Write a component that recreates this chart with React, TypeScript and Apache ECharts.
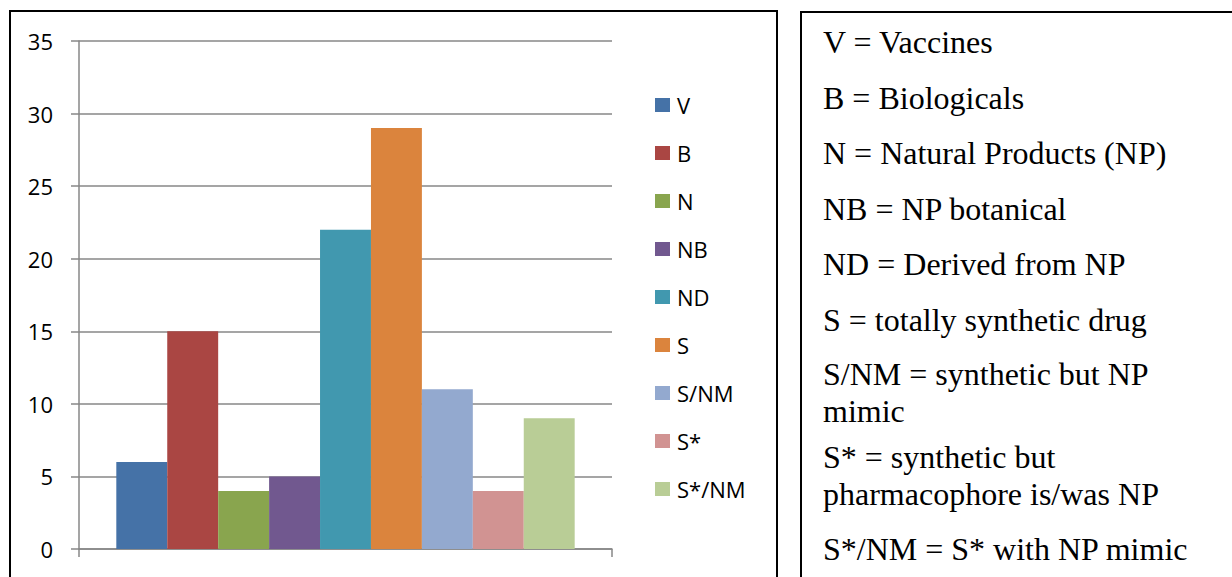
import React, { useEffect, useRef } from "react";
import * as echarts from "echarts";

const seriesNames = ["V", "B", "N", "NB", "ND", "S", "S/NM", "S*", "S*/NM"];
const seriesValues = [6, 15, 4, 5, 22, 29, 11, 4, 9];
const categories = ["Drugs"];
const yTicks = { min: 0, max: 35, interval: 5 };
const palette = ["#4572A7", "#AA4643", "#89A54E", "#71588F", "#4198AF", "#DB843D", "#93A9CF", "#D19392", "#B9CD96"];

const keyLines = [
  "V = Vaccines",
  "B = Biologicals",
  "N = Natural Products (NP)",
  "NB = NP botanical",
  "ND = Derived from NP",
  "S = totally synthetic drug",
  "S/NM = synthetic but NP",
  "mimic",
  "S* = synthetic but",
  "pharmacophore is/was NP",
  "S*/NM = S* with NP mimic",
];
const keyBaselines = [53, 108.5, 164, 219.5, 275, 330.5, 385, 422, 468, 505, 560];

export default function App() {
  const ref = useRef<HTMLDivElement>(null);
  useEffect(() => {
    if (!ref.current) return;
    const chart = echarts.init(ref.current, undefined, { renderer: "svg" });
    const fontSans = "Open Sans";
    const serifSize = 32;
    const graphics: any[] = [
      {
        type: "rect",
        shape: { x: 10, y: 11, width: 767, height: 600 },
        style: { fill: "none", stroke: "#000", lineWidth: 2 },
        silent: true,
      },
      {
        type: "rect",
        shape: { x: 801, y: 12, width: 450, height: 600 },
        style: { fill: "none", stroke: "#000", lineWidth: 2 },
        silent: true,
      },
      ...keyLines.map((t, i) => ({
        type: "text",
        x: 823,
        y: keyBaselines[i] - serifSize * 0.34,
        style: {
          text: t,
          fill: "#000",
          fontFamily: "Liberation Serif",
          fontSize: serifSize,
          verticalAlign: "middle",
          align: "left",
        },
        silent: true,
      })),
    ];
    chart.setOption({
      animation: false,
      backgroundColor: "#fff",
      grid: { left: 79, top: 41, width: 533, height: 508, containLabel: false },
      legend: {
        orient: "vertical",
        left: 650,
        top: 88,
        itemWidth: 15,
        itemHeight: 14,
        itemGap: 24,
        icon: "rect",
        data: seriesNames,
        textStyle: { fontFamily: fontSans, fontSize: 22, color: "#000", lineHeight: 24, padding: [0, 0, 0, 2] },
      },
      xAxis: {
        type: "category",
        data: categories,
        axisLine: { show: true, lineStyle: { color: "#878787", width: 1.5 } },
        axisTick: { show: true, length: 8, lineStyle: { color: "#878787", width: 1.5 } },
        axisLabel: { show: false },
      },
      yAxis: {
        type: "value",
        min: yTicks.min,
        max: yTicks.max,
        interval: yTicks.interval,
        axisLine: { show: true, lineStyle: { color: "#878787", width: 1.5 } },
        axisTick: { show: true, length: 8, lineStyle: { color: "#878787", width: 1.5 } },
        splitLine: { show: true, lineStyle: { color: "#878787", width: 1.5 } },
        axisLabel: { fontFamily: fontSans, fontSize: 22, color: "#000", margin: 26 },
      },
      series: seriesNames.map((name, i) => ({
        name,
        type: "bar",
        data: [seriesValues[i]],
        barGap: "0%",
        barCategoryGap: "14%",
        itemStyle: { color: palette[i] },
      })),
      graphic: graphics,
    });
    return () => chart.dispose();
  }, []);
  return <div ref={ref} style={{ position: "fixed", left: 0, top: 0, width: 1232, height: 577 }} />;
}
